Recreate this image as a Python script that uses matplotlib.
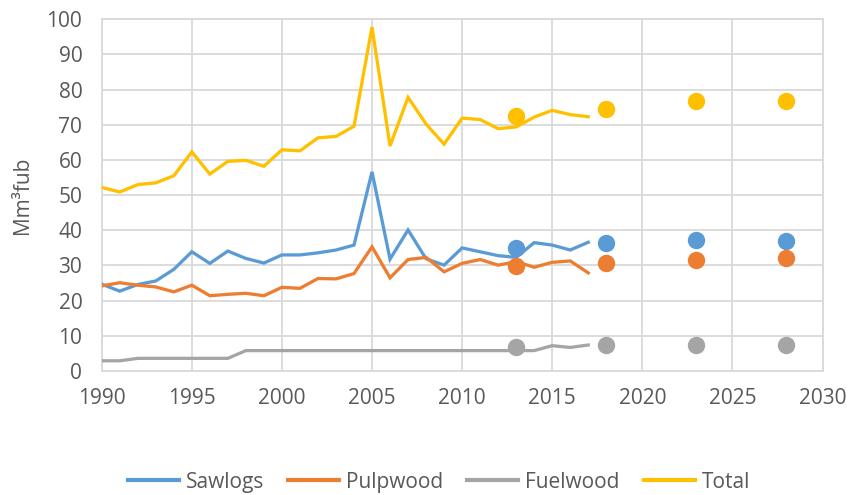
import matplotlib.pyplot as plt

plt.rcParams['font.family'] = ['Open Sans', 'DejaVu Sans']

# Annual removals, 1990-2017 (Mm3 fub)
years = list(range(1990, 2018))
sawlogs = [24.7, 22.7, 24.6, 25.6, 28.9, 33.9, 30.6, 34.1, 32.0, 30.7,
           33.0, 33.0, 33.6, 34.4, 35.8, 56.6, 31.8, 40.1, 31.9, 30.1,
           35.0, 33.9, 32.8, 32.3, 36.5, 35.8, 34.4, 36.6]
pulpwood = [24.2, 25.1, 24.4, 23.9, 22.5, 24.4, 21.4, 21.8, 22.1, 21.4,
            23.8, 23.5, 26.3, 26.2, 27.7, 35.3, 26.5, 31.7, 32.3, 28.2,
            30.6, 31.7, 30.1, 31.1, 29.5, 30.9, 31.3, 27.9]
fuelwood = [2.9, 2.9, 3.6, 3.6, 3.6, 3.6, 3.6, 3.6, 5.8, 5.8,
            5.8, 5.8, 5.8, 5.8, 5.8, 5.8, 5.8, 5.8, 5.8, 5.8,
            5.8, 5.8, 5.8, 5.8, 5.8, 7.2, 6.7, 7.4]
total = [52.2, 50.9, 53.0, 53.5, 55.5, 62.3, 56.0, 59.6, 59.9, 58.2,
         62.9, 62.6, 66.3, 66.7, 69.6, 97.8, 64.0, 77.8, 70.2, 64.5,
         71.9, 71.5, 68.9, 69.4, 72.2, 74.1, 72.9, 72.3]

# Projection points
proj_years = [2013, 2018, 2023, 2028]
sawlogs_proj = [35.1, 36.3, 37.2, 37.0]
pulpwood_proj = [29.9, 30.6, 31.6, 32.0]
fuelwood_proj = [6.9, 7.3, 7.4, 7.4]
total_proj = [72.4, 74.6, 76.9, 76.9]

labels = ['Sawlogs', 'Pulpwood', 'Fuelwood', 'Total']
colors = ['#5B9BD5', '#ED7D31', '#A5A5A5', '#FFC000']

fig = plt.figure(figsize=(8.49, 4.95), dpi=100)
ax = fig.add_axes([0.1198, 0.2505, 0.8490, 0.7105])

series = [sawlogs, pulpwood, fuelwood, total]
projections = [sawlogs_proj, pulpwood_proj, fuelwood_proj, total_proj]
for vals, proj, c, lab in zip(series, projections, colors, labels):
    ax.plot(years, vals, color=c, linewidth=2.35, label=lab, zorder=3,
            solid_joinstyle='miter')
    ax.plot(proj_years, proj, linestyle='none', marker='o', markersize=11.5,
            color=c, zorder=4)

ax.set_xlim(1990, 2030)
ax.set_ylim(0, 100)
ax.set_xticks(range(1990, 2031, 5))
ax.set_yticks(range(0, 101, 10))
ax.grid(True, color='#D9D9D9', linewidth=1.3)
ax.set_axisbelow(True)
for sp in ax.spines.values():
    sp.set_color('#D9D9D9')
    sp.set_linewidth(1.3)
ax.tick_params(length=0, labelsize=15, colors='#595959')
ax.tick_params(axis='x', pad=12)
ax.tick_params(axis='y', pad=14)
ax.set_ylabel('Mm³fub', fontsize=15, color='#595959', labelpad=10)

leg = fig.legend(loc='center', bbox_to_anchor=(0.517, 0.026), ncol=4,
                 frameon=False, fontsize=15, labelcolor='#595959',
                 handlelength=2.45, handletextpad=0.33, columnspacing=1.15)
for h in leg.get_lines():
    h.set_linewidth(3)

fig.savefig('out.png', dpi=100)
